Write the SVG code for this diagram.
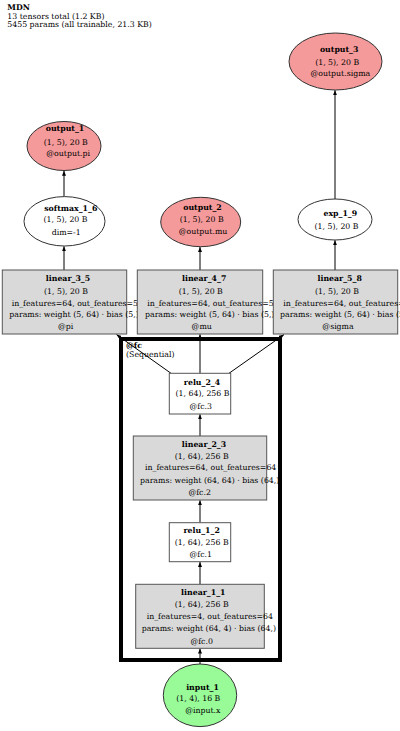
<svg xmlns="http://www.w3.org/2000/svg" width="400" height="731" viewBox="0 0 400 731">
<style>
text{font-family:"DejaVu Serif","Liberation Serif",serif;font-size:7.8px;fill:#000}
.b{font-weight:bold}
.m{text-anchor:middle}
.box{fill:#d9d9d9;stroke:#555;stroke-width:1}
.wbox{fill:#fff;stroke:#555;stroke-width:1}
.out{fill:#f59a9a;stroke:#333;stroke-width:1}
.inp{fill:#98fb98;stroke:#333;stroke-width:1}
.op{fill:#fff;stroke:#333;stroke-width:1}
.e{stroke:#000;stroke-width:1;fill:none;marker-end:url(#ah)}
</style>
<defs>
<marker id="ah" markerWidth="6" markerHeight="4" refX="5" refY="2" orient="auto" markerUnits="userSpaceOnUse"><path d="M0,0 L5,2 L0,4 z" fill="#000"/></marker>
</defs>
<rect width="400" height="731" fill="#fff"/>
<g id="header">
<text x="7.3" y="10" class="b">MDN</text>
<text x="7.3" y="18.7">13 tensors total (1.2 KB)</text>
<text x="7.3" y="27.4">5455 params (all trainable, 21.3 KB)</text>
</g>
<g id="cluster_fc">
<rect x="121" y="339" width="159" height="321" fill="none" stroke="#000" stroke-width="4"/>
<text x="126" y="348" class="b">@fc</text>
<text x="126" y="356.5">(Sequential)</text>
</g>
<g id="edges">
<line class="e" x1="200" y1="664" x2="200" y2="648.5"/>
<line class="e" x1="200" y1="584.3" x2="200" y2="562"/>
<line class="e" x1="200" y1="522.7" x2="200" y2="500.3"/>
<line class="e" x1="200" y1="436" x2="200" y2="414.3"/>
<line class="e" x1="171" y1="373.3" x2="116.5" y2="334.6"/>
<line class="e" x1="200" y1="373.3" x2="200" y2="334.3"/>
<line class="e" x1="229" y1="373.3" x2="284" y2="334.6"/>
<line class="e" x1="64" y1="270" x2="64" y2="246.3"/>
<line class="e" x1="64" y1="196.7" x2="64" y2="170.8"/>
<line class="e" x1="200" y1="270" x2="200" y2="246.9"/>
<line class="e" x1="335" y1="270" x2="335" y2="240.2"/>
<line class="e" x1="335" y1="199" x2="335" y2="90.2"/>
</g>
<g id="output_3">
<ellipse class="out" cx="335.5" cy="61.5" rx="46.5" ry="28.5"/>
<text x="339.2" y="52.3" class="b m">output_3</text>
<text x="337.2" y="64.5" class="m">(1, 5), 20 B</text>
<text x="340.3" y="75.7" class="m">@output.sigma</text>
</g>
<g id="exp_1_9">
<ellipse class="op" cx="335" cy="219.5" rx="37" ry="20.5"/>
<text x="340.3" y="216.2" class="b m">exp_1_9</text>
<text x="336.5" y="228.5" class="m">(1, 5), 20 B</text>
</g>
<g id="output_1">
<ellipse class="out" cx="64" cy="146" rx="37" ry="24.5"/>
<text x="65" y="131.2" class="b m">output_1</text>
<text x="65.8" y="144.5" class="m">(1, 5), 20 B</text>
<text x="68.2" y="156.2" class="m">@output.pi</text>
</g>
<g id="softmax_1_6">
<ellipse class="op" cx="64.5" cy="221.3" rx="40.5" ry="24.7"/>
<text x="70.8" y="211.2" class="b m">softmax_1_6</text>
<text x="65.5" y="222.2" class="m">(1, 5), 20 B</text>
<text x="66.2" y="234.5" class="m">dim=-1</text>
</g>
<g id="output_2">
<ellipse class="out" cx="200.7" cy="222" rx="40" ry="24.7"/>
<text x="202.5" y="209.5" class="b m">output_2</text>
<text x="201.7" y="222.2" class="m">(1, 5), 20 B</text>
<text x="203" y="233.8" class="m">@output.mu</text>
</g>
<g id="linear_3_5">
<rect class="box" x="2.3" y="270" width="124.4" height="64"/>
<text x="68" y="281.1" class="b m">linear_3_5</text>
<text x="66" y="293.5" class="m">(1, 5), 20 B</text>
<text x="11.7" y="305.5">in_features=64, out_features=5</text>
<text x="9.3" y="317.1">params: weight (5, 64) · bias (5,)</text>
<text x="65.7" y="328.8" class="m">@pi</text>
</g>
<g id="linear_4_7">
<rect class="box" x="137.3" y="270" width="125.4" height="64"/>
<text x="204.2" y="281.1" class="b m">linear_4_7</text>
<text x="200.8" y="293.5" class="m">(1, 5), 20 B</text>
<text x="147.3" y="305.5">in_features=64, out_features=5</text>
<text x="145" y="317.1">params: weight (5, 64) · bias (5,)</text>
<text x="201.7" y="328.8" class="m">@mu</text>
</g>
<g id="linear_5_8">
<rect class="box" x="273.3" y="270" width="124.4" height="64"/>
<text x="339.7" y="281.1" class="b m">linear_5_8</text>
<text x="337" y="293.5" class="m">(1, 5), 20 B</text>
<text x="283.3" y="305.5">in_features=64, out_features=5</text>
<text x="280" y="317.1">params: weight (5, 64) · bias (5,)</text>
<text x="338" y="328.8" class="m">@sigma</text>
</g>
<g id="relu_2_4">
<rect class="wbox" x="169.3" y="373.3" width="61.4" height="40.7"/>
<text x="202" y="384.5" class="b m">relu_2_4</text>
<text x="202.5" y="396.1" class="m">(1, 64), 256 B</text>
<text x="200.8" y="408.5" class="m">@fc.3</text>
</g>
<g id="linear_2_3">
<rect class="box" x="133.3" y="436" width="133.4" height="64"/>
<text x="204" y="446.8" class="b m">linear_2_3</text>
<text x="201.7" y="458.5" class="m">(1, 64), 256 B</text>
<text x="145" y="470.1">in_features=64, out_features=64</text>
<text x="140" y="482.8">params: weight (64, 64) · bias (64,)</text>
<text x="199.7" y="494.5" class="m">@fc.2</text>
</g>
<g id="relu_1_2">
<rect class="wbox" x="169.3" y="522.7" width="61.4" height="39"/>
<text x="201.7" y="532.8" class="b m">relu_1_2</text>
<text x="201.7" y="544.5" class="m">(1, 64), 256 B</text>
<text x="200.8" y="556.8" class="m">@fc.1</text>
</g>
<g id="linear_1_1">
<rect class="box" x="135.7" y="584.3" width="128.6" height="64"/>
<text x="203.3" y="595.1" class="b m">linear_1_1</text>
<text x="201.7" y="607.1" class="m">(1, 64), 256 B</text>
<text x="146.7" y="618.8">in_features=4, out_features=64</text>
<text x="141.7" y="630.5">params: weight (64, 4) · bias (64,)</text>
<text x="201.7" y="643.5" class="m">@fc.0</text>
</g>
<g id="input_1">
<ellipse class="inp" cx="200" cy="695.3" rx="36.7" ry="31.3"/>
<text x="202.5" y="689.5" class="b m">input_1</text>
<text x="198.3" y="701.1" class="m">(1, 4), 16 B</text>
<text x="202.8" y="712.8" class="m">@input.x</text>
</g>
</svg>
